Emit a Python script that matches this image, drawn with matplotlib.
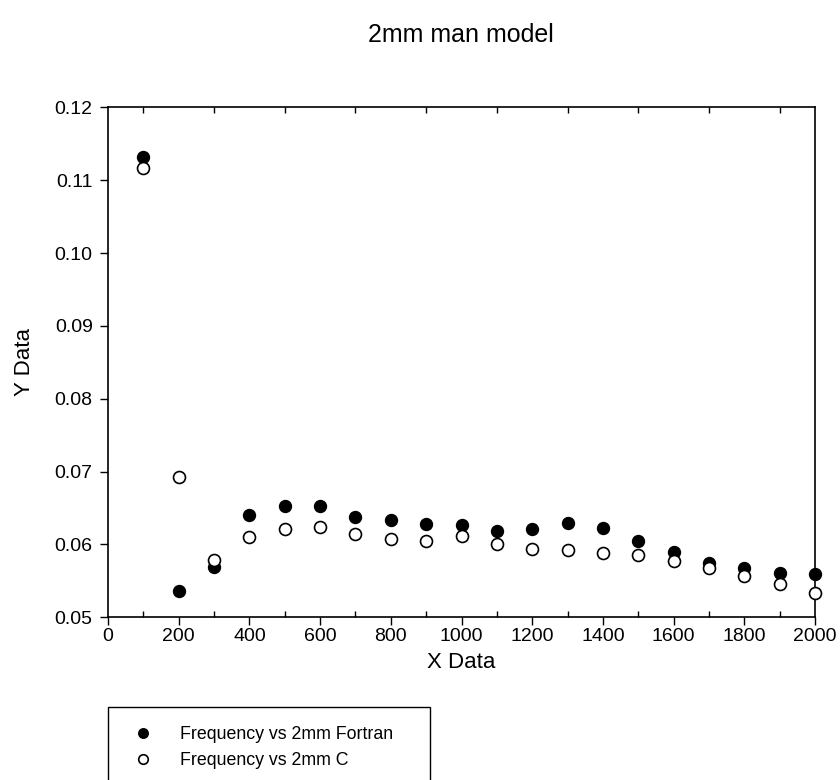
import matplotlib
matplotlib.use("Agg")
import matplotlib.pyplot as plt
from matplotlib.patches import Rectangle
from matplotlib.ticker import MultipleLocator

plt.rcParams['font.family'] = ['Liberation Sans', 'DejaVu Sans']

x = [100, 200, 300, 400, 500, 600, 700, 800, 900, 1000,
     1100, 1200, 1300, 1400, 1500, 1600, 1700, 1800, 1900, 2000]
fortran = [0.1132, 0.0536, 0.0569, 0.0640, 0.0653, 0.0653, 0.0637, 0.0634, 0.0628, 0.0627,
           0.0618, 0.0621, 0.0629, 0.0623, 0.0605, 0.0590, 0.0575, 0.0568, 0.0561, 0.0559]
c_vals = [0.1117, 0.0693, 0.0579, 0.0610, 0.0621, 0.0624, 0.0615, 0.0608, 0.0605, 0.0612,
          0.0600, 0.0594, 0.0592, 0.0588, 0.0586, 0.0577, 0.0568, 0.0557, 0.0546, 0.0534]

title = "2mm man model"
xlabel = "X Data"
ylabel = "Y Data"
labels = ["Frequency vs 2mm Fortran", "Frequency vs 2mm C"]

W, H = 840, 780
fig = plt.figure(figsize=(W / 100, H / 100), dpi=100)
L, R, B, T = 108, 815, 617.3, 107.3
ax = fig.add_axes([L / W, 1 - B / H, (R - L) / W, (B - T) / H])

h1, = ax.plot(x, fortran, linestyle='none', marker='o', markersize=8.6,
              markerfacecolor='black', markeredgecolor='black', markeredgewidth=1.0,
              clip_on=False, zorder=3)
h2, = ax.plot(x, c_vals, linestyle='none', marker='o', markersize=8.6,
              markerfacecolor='white', markeredgecolor='black', markeredgewidth=1.2,
              clip_on=False, zorder=4)

ax.set_xlim(0, 2000)
ax.set_ylim(0.05, 0.12)
ax.xaxis.set_major_locator(MultipleLocator(200))
ax.xaxis.set_minor_locator(MultipleLocator(100))
ax.yaxis.set_major_locator(MultipleLocator(0.01))
ax.yaxis.set_major_formatter(matplotlib.ticker.FormatStrFormatter('%.2f'))

ax.tick_params(axis='x', which='major', direction='out', length=6, width=1,
               labelsize=14, top=False, pad=2)
ax.tick_params(axis='x', which='minor', direction='in', length=4, width=1,
               top=True, bottom=True)
ax.tick_params(axis='y', which='major', direction='out', length=6, width=1,
               labelsize=14, right=False, pad=5)
for s in ax.spines.values():
    s.set_linewidth(1.2)

ax.set_xlabel(xlabel, fontsize=16, labelpad=5)
ax.set_ylabel(ylabel, fontsize=16, labelpad=14)
fig.text(461 / W, 1 - 35 / H, title, ha='center', va='center', fontsize=18)

# Legend box (extends past the bottom edge of the figure)
box = Rectangle((108 / W, -0.05), (430 - 108) / W, 0.05 + 1 - 706.7 / H,
                transform=fig.transFigure, fill=False, edgecolor='black',
                linewidth=1.0, clip_on=False)
fig.add_artist(box)
leg = fig.legend([h1, h2], labels, loc='upper left',
                 bbox_to_anchor=(125 / W, 1 - 717 / H), frameon=False,
                 fontsize=12.8, markerscale=0.8, handlelength=1.0,
                 handletextpad=1.6, labelspacing=0.5, borderpad=0)

fig.savefig("out.png", dpi=100)
